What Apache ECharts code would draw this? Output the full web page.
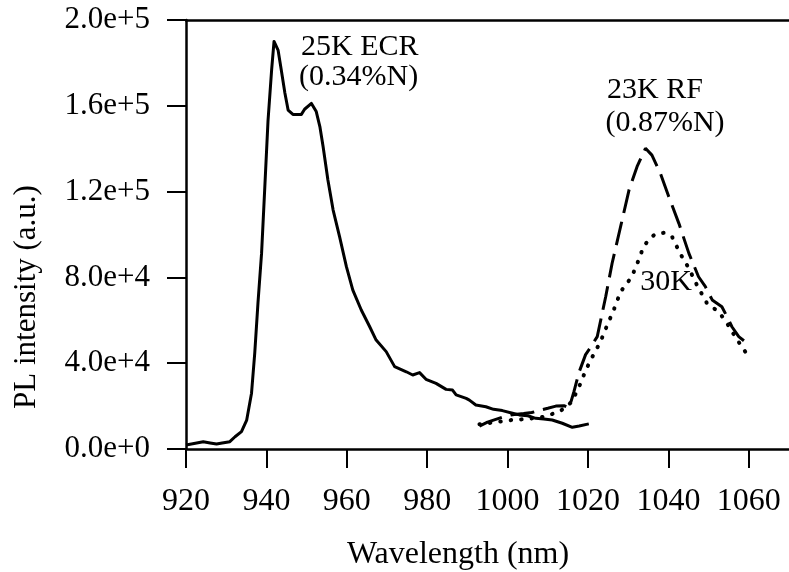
<!DOCTYPE html>
<html>
<head>
<meta charset="utf-8">
<script src="https://cdn.jsdelivr.net/npm/echarts@6/dist/echarts.min.js"></script>
<style>html,body{margin:0;padding:0;background:#fff;}#chart{width:789px;height:572px;}</style>
</head>
<body>
<div id="chart"></div>
<script>
// Tick values and labels
const xTicks = [920, 940, 960, 980, 1000, 1020, 1040, 1060];
const xTickLabels = ["920", "940", "960", "980", "1000", "1020", "1040", "1060"];
const yTicks = [0, 40000, 80000, 120000, 160000, 200000];
const yTickLabels = ["0.0e+0", "4.0e+4", "8.0e+4", "1.2e+5", "1.6e+5", "2.0e+5"];

// 25K ECR (0.34%N) - solid
const ecrX = [920, 922, 924.3, 926, 927.6, 929, 930.9, 932.2, 933.8, 935.1, 936.3, 937.1, 937.9, 938.8, 939.6, 940.4, 941.3, 941.9, 942.9, 943.7, 944.6, 945.4, 946.6, 948.7, 949.5, 951.2, 952.4, 953.3, 954.1, 955.3, 956.6, 958.2, 959.9, 961.5, 963.6, 965.7, 967.3, 969.8, 971.9, 974.8, 976.4, 978.1, 979.7, 982.2, 984.7, 986.3, 987.2, 989.7, 990.5, 992.1, 994.6, 996.5, 998.7, 1001, 1002.9, 1005, 1007, 1009, 1011.1, 1013.6, 1016.1, 1017.8, 1020.2];
const ecrY = [1900, 2600, 3400, 2800, 2300, 2800, 3400, 5700, 8100, 13500, 26000, 44700, 68000, 91300, 122000, 153000, 176700, 190000, 186000, 176700, 166000, 158000, 156000, 156000, 158400, 161100, 157300, 150300, 141000, 125400, 111400, 99000, 85000, 74100, 64800, 57000, 50800, 45400, 38400, 36000, 34500, 35600, 32500, 30600, 27800, 27500, 25200, 23600, 22800, 20500, 19700, 18500, 17900, 16800, 15900, 15500, 14300, 14000, 13500, 12000, 10100, 10700, 11700];

// 23K RF (0.87%N) - dashed
const rfX = [993, 995, 998.7, 1001.2, 1004, 1006, 1008.3, 1010, 1012, 1014, 1015.3, 1016.5, 1017.7, 1019.4, 1020.5, 1022.3, 1024.4, 1026, 1028.1, 1030.2, 1032.2, 1034.3, 1035.9, 1038, 1040.1, 1042.6, 1045.1, 1047.5, 1049.2, 1050.9, 1053.3, 1054.6, 1055.8, 1057.5, 1059.1, 1060.4];
const rfY = [10700, 12500, 14800, 16000, 16500, 17000, 18200, 19000, 20000, 20200, 19100, 26700, 35400, 44000, 47000, 52400, 71000, 86600, 103600, 120700, 131600, 140200, 137000, 128500, 117600, 105200, 91200, 80300, 75700, 69500, 66300, 61700, 57000, 52400, 50000, 49200];

// 30K - dotted
const k30X = [993, 997, 1001, 1005, 1009, 1013, 1016, 1018, 1019.5, 1021.1, 1023.1, 1024.8, 1026.4, 1028.1, 1030.9, 1032.6, 1033.8, 1035.5, 1037.1, 1039, 1040.9, 1042.9, 1045.1, 1047.1, 1049.6, 1052.5, 1054.6, 1056.6, 1058.5, 1060];
const k30Y = [11500, 12500, 13500, 14000, 15000, 17500, 22000, 30000, 37000, 43000, 50000, 57800, 64800, 73300, 80300, 88100, 94300, 98500, 100500, 100800, 99000, 91200, 84200, 76400, 67900, 64000, 58600, 52400, 47000, 43000];

const zip = (xs, ys) => xs.map((x, i) => [x, ys[i]]);
const FONT = '"Liberation Serif", "Times New Roman", serif';

const chart = echarts.init(document.getElementById('chart'), null, {renderer: 'canvas'});
chart.setOption({
  animation: false,
  backgroundColor: '#fff',
  grid: {left: 186, top: 20, right: 0, height: 429, show: false},
  xAxis: [{
    type: 'value', min: 920, max: 1070, interval: 20,
    axisLine: {show: true, lineStyle: {color: '#000', width: 2.5}},
    axisTick: {show: true, inside: false, length: 19, lineStyle: {color: '#000', width: 2}},
    axisLabel: {
      show: true, margin: 37, color: '#000', fontFamily: FONT, fontSize: 32, showMaxLabel: false,
      formatter: v => { const i = xTicks.indexOf(v); return i >= 0 ? xTickLabels[i] : ''; }
    },
    splitLine: {show: false}
  }, {
    type: 'value', position: 'top', min: 920, max: 1070, interval: 20,
    axisLine: {show: true, onZero: false, lineStyle: {color: '#000', width: 2.5}},
    axisTick: {show: false}, axisLabel: {show: false}, splitLine: {show: false}
  }],
  yAxis: {
    type: 'value', min: 0, max: 200000, interval: 40000,
    axisLine: {show: true, lineStyle: {color: '#000', width: 2.5}},
    axisTick: {show: true, inside: false, length: 19, lineStyle: {color: '#000', width: 2}},
    axisLabel: {
      show: true, margin: 36, color: '#000', fontFamily: FONT, fontSize: 31,
      formatter: v => { const i = yTicks.indexOf(v); return i >= 0 ? yTickLabels[i] : ''; }
    },
    splitLine: {show: false}
  },
  series: [
    {type: 'line', name: '25K ECR', data: zip(ecrX, ecrY), showSymbol: false, symbol: 'none', smooth: false,
     lineStyle: {color: '#000', width: 3, type: 'solid', join: 'round'}},
    {type: 'line', name: '23K RF', data: zip(rfX, rfY), showSymbol: false, symbol: 'none', smooth: false,
     lineStyle: {color: '#000', width: 3, type: [24, 9], cap: 'butt'}},
    {type: 'line', name: '30K', data: zip(k30X, k30Y), showSymbol: false, symbol: 'none', smooth: false,
     lineStyle: {color: '#000', width: 4, type: [0.5, 10], cap: 'round'}}
  ],
  graphic: [
    {type: 'text', x: 458, y: 555, style: {text: 'Wavelength (nm)', font: '32px ' + FONT, fill: '#000', align: 'center', verticalAlign: 'middle'}},
    {type: 'text', x: 27, y: 297, rotation: Math.PI / 2, style: {text: 'PL intensity (a.u.)', font: '31px ' + FONT, fill: '#000', align: 'center', verticalAlign: 'middle'}},
    {type: 'text', x: 301, y: 47, style: {text: '25K ECR', font: '30px ' + FONT, fill: '#000', align: 'left', verticalAlign: 'middle'}},
    {type: 'text', x: 299, y: 77, style: {text: '(0.34%N)', font: '30px ' + FONT, fill: '#000', align: 'left', verticalAlign: 'middle'}},
    {type: 'text', x: 655, y: 90, style: {text: '23K RF', font: '30px ' + FONT, fill: '#000', align: 'center', verticalAlign: 'middle'}},
    {type: 'text', x: 665, y: 123, style: {text: '(0.87%N)', font: '30px ' + FONT, fill: '#000', align: 'center', verticalAlign: 'middle'}},
    {type: 'text', x: 666, y: 282, style: {text: '30K', font: '30px ' + FONT, fill: '#000', align: 'center', verticalAlign: 'middle'}}
  ]
});
</script>
</body>
</html>
